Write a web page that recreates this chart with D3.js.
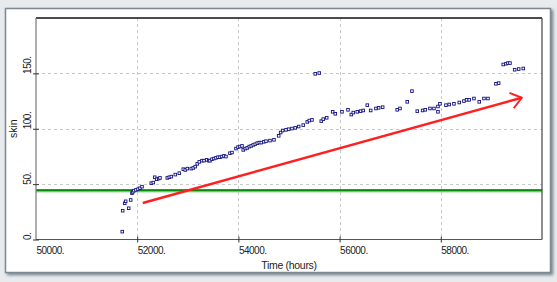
<!DOCTYPE html>
<html>
<head>
<meta charset="utf-8">
<script src="https://cdn.jsdelivr.net/npm/d3@7"></script>
<style>
  html, body { margin: 0; padding: 0; background: #e8ebee; }
  .chart { width: 557px; height: 282px; }
  text { font-family: "Liberation Sans", Arial, sans-serif; fill: #222; }
</style>
</head>
<body>
<div class="chart"></div>
<script>
// values
const timeHours = [
  51705, 51713, 51753, 51772, 51832, 51871, 51897, 51911, 51936, 51976,
  52016, 52055, 52095, 52278, 52318, 52346, 52385, 52425, 52450, 52595,
  52634, 52674, 52753, 52832, 52911, 52950, 52990, 53069, 53108, 53148,
  53187, 53227, 53280, 53320, 53373, 53413, 53438, 53478, 53517, 53557,
  53596, 53636, 53675, 53715, 53754, 53833, 53873, 53952, 53992, 54031,
  54071, 54096, 54136, 54175, 54215, 54254, 54294, 54333, 54373, 54412,
  54452, 54505, 54545, 54624, 54703, 54796, 54835, 54875, 54940, 54994,
  55059, 55124, 55191, 55282, 55361, 55401, 55454, 55519, 55598, 55638,
  55677, 55745, 55863, 55915, 56047, 56166, 56231, 56270, 56349, 56416,
  56468, 56547, 56614, 56718, 56772, 56851, 57139, 57193, 57337, 57430,
  57535, 57641, 57693, 57786, 57865, 57944, 57944, 57983, 58102, 58167,
  58260, 58365, 58457, 58511, 58562, 58655, 58760, 58853, 58932, 59090,
  59143, 59234, 59288, 59327, 59367, 59460, 59539, 59630
]
const skinValues = [
  7.1, 26.0, 32.7, 34.5, 28.2, 35.7, 41.8, 42.9, 44.1, 44.8,
  45.4, 46.3, 47.7, 50.8, 51.4, 56.2, 54.4, 55.0, 55.6, 55.6,
  56.2, 56.8, 58.6, 59.9, 63.5, 62.8, 64.0, 64.0, 64.6, 65.8,
  68.3, 70.1, 71.2, 71.2, 71.9, 71.2, 71.2, 72.5, 73.1, 73.7,
  74.3, 74.3, 74.9, 75.5, 74.9, 77.9, 78.5, 82.1, 83.4, 83.9,
  84.5, 80.9, 82.1, 82.7, 83.9, 84.5, 85.4, 86.1, 87.0, 87.5,
  87.5, 88.2, 88.8, 89.3, 90.0, 93.6, 96.6, 98.4, 99.0, 99.6,
  100.2, 100.8, 102.0, 103.3, 106.2, 107.4, 108.0, 149.6, 150.3, 106.9,
  108.7, 109.9, 115.3, 113.5, 115.3, 117.1, 112.8, 114.6, 115.3, 115.9,
  116.5, 121.3, 116.5, 118.3, 118.9, 119.5, 117.1, 118.3, 124.3, 134.0,
  115.9, 116.5, 117.1, 118.3, 118.3, 120.1, 115.3, 122.5, 121.3, 121.9,
  122.5, 123.7, 125.0, 126.1, 126.1, 127.3, 124.3, 127.3, 127.3, 140.6,
  141.2, 158.0, 158.7, 159.3, 159.3, 153.3, 153.9, 154.4
]
const thresholdSkin = 44.5
const trendTime = [52110, 59600]
const trendSkin = [33, 128]
const xTicks = [50000, 52000, 54000, 56000, 58000]
const yTicks = [0, 50, 100, 150]

const width = 557
const height = 282
const plot = { left: 36, right: 542, top: 18, bottom: 239.5 }

const svg = d3.select('.chart')
  .append('svg')
  .attr('width', width)
  .attr('height', height)

const defs = svg.append('defs')

const shadow = defs.append('filter')
  .attr('id', 'shadow')
  .attr('x', '-5%').attr('y', '-5%')
  .attr('width', '110%').attr('height', '115%')
shadow.append('feDropShadow')
  .attr('dx', 2).attr('dy', 2)
  .attr('stdDeviation', 1.6)
  .attr('flood-color', '#5a6670')
  .attr('flood-opacity', 0.75)

defs.append('marker')
  .attr('id', 'head')
  .attr('markerUnits', 'userSpaceOnUse')
  .attr('markerWidth', 16).attr('markerHeight', 20)
  .attr('viewBox', '0 0 16 20')
  .attr('refX', 12.5).attr('refY', 10)
  .attr('orient', 'auto')
  .append('path')
  .attr('d', 'M2,2 L12.5,10 L2,18')
  .attr('fill', 'none')
  .attr('stroke', '#ff1f1f')
  .attr('stroke-width', 2)

// panel
svg.append('rect')
  .attr('x', 5.5).attr('y', 8.5)
  .attr('width', 545).attr('height', 264)
  .attr('fill', '#fff')
  .attr('stroke', '#7d8891')
  .attr('stroke-width', 1.5)
  .attr('filter', 'url(#shadow)')

const x = d3.scaleLinear().domain([50000, 60000]).range([plot.left, plot.right])
const y = d3.scaleLinear().domain([0, 200]).range([plot.bottom, plot.top])

// grid
const grid = svg.append('g')
  .attr('stroke', '#c9c9c9')
  .attr('stroke-dasharray', '3,3')
grid.selectAll('.gx')
  .data(xTicks.slice(1))
  .enter()
  .append('line')
  .attr('x1', d => Math.round(x(d)) + 0.5)
  .attr('x2', d => Math.round(x(d)) + 0.5)
  .attr('y1', plot.top)
  .attr('y2', plot.bottom)
grid.selectAll('.gy')
  .data(yTicks.slice(1))
  .enter()
  .append('line')
  .attr('x1', plot.left)
  .attr('x2', plot.right)
  .attr('y1', d => Math.round(y(d)) + 0.5)
  .attr('y2', d => Math.round(y(d)) + 0.5)

// threshold line
svg.append('line')
  .attr('x1', plot.left).attr('x2', plot.right)
  .attr('y1', y(thresholdSkin) + 0.5).attr('y2', y(thresholdSkin) + 0.5)
  .attr('stroke', '#9bd89b')
  .attr('stroke-width', 3.5)
svg.append('line')
  .attr('x1', plot.left).attr('x2', plot.right)
  .attr('y1', y(thresholdSkin)).attr('y2', y(thresholdSkin))
  .attr('stroke', '#078a07')
  .attr('stroke-width', 2)

// frame
svg.append('line')
  .attr('x1', plot.left).attr('x2', plot.right)
  .attr('y1', plot.top).attr('y2', plot.top)
  .attr('stroke', '#111').attr('stroke-width', 1.5)
svg.append('line')
  .attr('x1', plot.right).attr('x2', plot.right)
  .attr('y1', plot.top).attr('y2', plot.bottom)
  .attr('stroke', '#444').attr('stroke-width', 1.2)
svg.append('line')
  .attr('x1', plot.left).attr('x2', plot.right)
  .attr('y1', plot.bottom).attr('y2', plot.bottom)
  .attr('stroke', '#555').attr('stroke-width', 1.2)
svg.append('line')
  .attr('x1', plot.left).attr('x2', plot.left)
  .attr('y1', plot.top).attr('y2', plot.bottom)
  .attr('stroke', '#777').attr('stroke-width', 1.2)

// x axis
const xAxis = svg.append('g')
  .attr('transform', `translate(0, ${plot.bottom})`)
  .call(d3.axisBottom(x).tickValues(xTicks).tickFormat(d => d + '.').tickSize(3))
xAxis.select('.domain').remove()
xAxis.selectAll('.tick line').attr('y1', -3).attr('stroke', '#333')
xAxis.selectAll('.tick text')
  .attr('text-anchor', 'start')
  .attr('y', 14.5)
  .attr('dy', null)
  .attr('font-size', 10)
  .attr('letter-spacing', -0.5)
  .attr('fill', '#222')
xAxis.select('.tick line').remove()

// y axis
const yAxis = svg.append('g')
  .attr('transform', `translate(${plot.left}, 0)`)
  .call(d3.axisLeft(y).tickValues(yTicks).tickFormat(d => d + '.').tickSize(3))
yAxis.select('.domain').remove()
yAxis.selectAll('.tick line').attr('x1', 3).attr('stroke', '#333')
yAxis.selectAll('.tick text')
  .attr('text-anchor', 'start')
  .attr('x', null)
  .attr('dy', null)
  .attr('transform', 'translate(-5, 0) rotate(-90)')
  .attr('font-size', 10)
  .attr('letter-spacing', -0.5)
  .attr('fill', '#222')

// titles
svg.append('text')
  .attr('x', (plot.left + plot.right) / 2)
  .attr('y', 269)
  .attr('text-anchor', 'middle')
  .attr('font-size', 10.5)
  .attr('letter-spacing', -0.3)
  .text('Time (hours)')
svg.append('text')
  .attr('transform', `translate(17, ${(plot.top + plot.bottom) / 2}) rotate(-90)`)
  .attr('text-anchor', 'middle')
  .attr('font-size', 10.5)
  .text('skin')

// points
svg.append('g')
  .selectAll('rect')
  .data(timeHours)
  .enter()
  .append('rect')
  .attr('x', d => x(d) - 1.3)
  .attr('y', (d, i) => y(skinValues[i]) - 1.3)
  .attr('width', 2.6)
  .attr('height', 2.6)
  .attr('fill', '#fff')
  .attr('stroke', '#12127e')
  .attr('stroke-width', 0.9)

// trend arrow
svg.append('line')
  .attr('x1', x(trendTime[0])).attr('y1', y(trendSkin[0]))
  .attr('x2', x(trendTime[1])).attr('y2', y(trendSkin[1]))
  .attr('stroke', '#ff1f1f')
  .attr('stroke-width', 2.5)
  .attr('marker-end', 'url(#head)')
</script>
</body>
</html>
